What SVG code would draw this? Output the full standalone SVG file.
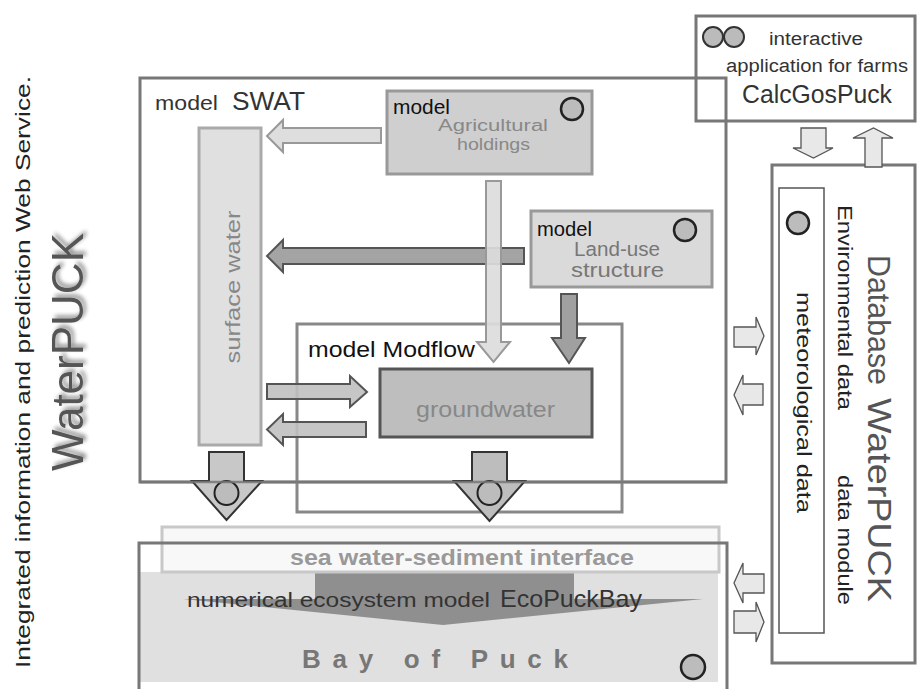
<svg xmlns="http://www.w3.org/2000/svg" width="917" height="689" viewBox="0 0 917 689">
<style>
text{font-family:"Liberation Sans","DejaVu Sans",sans-serif}
.frame{fill:none;stroke:#777;stroke-width:3}
.circ{fill:#bcbcbc;stroke:#222;stroke-width:2.5}
.lbl{fill:#333}
.grey{fill:#888}
.side{fill:#e8e8e8;stroke:#555;stroke-width:1.3}
</style>
<defs>
<filter id="sh" x="-20%" y="-20%" width="140%" height="140%">
<feGaussianBlur in="SourceAlpha" stdDeviation="2"/>
<feOffset dx="3" dy="3" result="b"/>
<feComponentTransfer><feFuncA type="linear" slope="0.45"/></feComponentTransfer>
<feMerge><feMergeNode/><feMergeNode in="SourceGraphic"/></feMerge>
</filter>
</defs>

<g id="title">
<text transform="translate(30,372) rotate(-90)" text-anchor="middle" font-size="21" fill="#222" textLength="592" lengthAdjust="spacingAndGlyphs">Integrated information and prediction Web Service.</text>
<text transform="translate(83,352) rotate(-90)" text-anchor="middle" font-size="44" fill="#555" filter="url(#sh)" textLength="238" lengthAdjust="spacingAndGlyphs">WaterPUCK</text>
</g>

<g id="bay">
<rect x="139" y="572" width="579" height="110" fill="#e0e0e0"/>
<path d="M315,572H574V599H703L443,625L183,599H315Z" fill="#8f8f8f"/>
<text x="187" y="607" font-size="20" fill="#333" textLength="303" lengthAdjust="spacingAndGlyphs">numerical ecosystem model</text>
<text x="500" y="607" font-size="24" fill="#333" textLength="142" lengthAdjust="spacingAndGlyphs">EcoPuckBay</text>
<text x="302" y="668" font-size="26" font-weight="bold" fill="#777" textLength="266" lengthAdjust="spacing">Bay of Puck</text>
<circle class="circ" cx="693" cy="667" r="12"/>
</g>
<g id="interface">
<rect x="162" y="527" width="557" height="45" fill="#f7f7f7" fill-opacity="0.85" stroke="#c8c8c8" stroke-width="3"/>
<text x="290" y="565" font-size="22" font-weight="bold" fill="#999" textLength="344" lengthAdjust="spacingAndGlyphs">sea water-sediment interface</text>
</g>
<path id="bay-frame" class="frame" d="M139,692V543H727V692"/>

<g id="calcgospuck">
<rect x="696" y="16" width="219" height="105" fill="#fff" stroke="#777" stroke-width="3"/>
<circle cx="713" cy="37" r="10" fill="#bbb" stroke="#333" stroke-width="2"/>
<circle cx="734" cy="37" r="10" fill="#bbb" stroke="#333" stroke-width="2"/>
<text x="769" y="45" font-size="18" class="lbl" textLength="94" lengthAdjust="spacingAndGlyphs">interactive</text>
<text x="726" y="72" font-size="18" class="lbl" textLength="182" lengthAdjust="spacingAndGlyphs">application for farms</text>
<text x="742" y="103" font-size="26" class="lbl" textLength="150" lengthAdjust="spacingAndGlyphs">CalcGosPuck</text>
</g>

<g id="swat">
<rect class="frame" x="140" y="78" width="586" height="404"/>
<text x="155" y="110" font-size="20" class="lbl" textLength="63" lengthAdjust="spacingAndGlyphs">model</text>
<text x="232" y="110" font-size="25" class="lbl" textLength="73" lengthAdjust="spacingAndGlyphs">SWAT</text>
</g>

<g id="surface-water">
<rect x="199" y="128" width="62" height="317" fill="#e0e0e0" stroke="#aaa" stroke-width="3"/>
<text transform="translate(240,287) rotate(-90)" text-anchor="middle" font-size="20" fill="#888" textLength="153" lengthAdjust="spacingAndGlyphs">surface water</text>
</g>

<g id="agricultural">
<rect x="387" y="91" width="205" height="83" fill="#cfcfcf" stroke="#999" stroke-width="3"/>
<text x="393" y="114" font-size="20" fill="#111" textLength="57" lengthAdjust="spacingAndGlyphs">model</text>
<text x="438" y="131" font-size="16" class="grey" textLength="110" lengthAdjust="spacingAndGlyphs">Agricultural</text>
<text x="457" y="150" font-size="16" class="grey" textLength="73" lengthAdjust="spacingAndGlyphs">holdings</text>
<circle class="circ" cx="572" cy="109" r="11"/>
</g>

<g id="landuse">
<rect x="531" y="211" width="181" height="76" fill="#dadada" stroke="#999" stroke-width="3"/>
<text x="537" y="236" font-size="20" fill="#111" textLength="55" lengthAdjust="spacingAndGlyphs">model</text>
<text x="574" y="256" font-size="20" fill="#777" textLength="86" lengthAdjust="spacingAndGlyphs">Land-use</text>
<text x="571" y="277" font-size="20" fill="#777" textLength="93" lengthAdjust="spacingAndGlyphs">structure</text>
<circle class="circ" cx="685" cy="230" r="11"/>
</g>

<g id="modflow">
<rect x="297" y="324" width="325" height="188" fill="none" stroke="#888" stroke-width="3"/>
<text x="308" y="357" font-size="22" fill="#111" textLength="167" lengthAdjust="spacingAndGlyphs">model Modflow</text>
</g>

<g id="groundwater">
<rect x="380" y="369" width="212" height="68" fill="#bebebe" stroke="#555" stroke-width="3"/>
<text x="416" y="417" font-size="22" fill="#888" textLength="139" lengthAdjust="spacingAndGlyphs">groundwater</text>
</g>

<g id="database">
<rect x="772" y="165" width="143" height="498" fill="#fff" stroke="#777" stroke-width="3"/>
<rect x="779" y="188" width="45" height="445" fill="#fff" stroke="#555" stroke-width="1.5"/>
<circle class="circ" cx="798" cy="223" r="11"/>
<text transform="translate(868,255) rotate(90)" font-size="32" fill="#555" textLength="130" lengthAdjust="spacingAndGlyphs">Database</text>
<text transform="translate(868,398) rotate(90)" font-size="33" fill="#555" textLength="204" lengthAdjust="spacingAndGlyphs">WaterPUCK</text>
<text transform="translate(838,205) rotate(90)" font-size="21" fill="#222" textLength="205" lengthAdjust="spacingAndGlyphs">Environmental data</text>
<text transform="translate(838,475) rotate(90)" font-size="21" fill="#222" textLength="130" lengthAdjust="spacingAndGlyphs">data module</text>
<text transform="translate(797,292) rotate(90)" font-size="20" fill="#222" textLength="221" lengthAdjust="spacingAndGlyphs">meteorological data</text>
</g>

<g id="connectors">
<polygon points="381,128 283,128 283,120 267,136 283,152 283,143 381,143" fill="#dedede" stroke="#999" stroke-width="2"/>
<polygon points="524,248 283,248 283,240 267,256 283,272 283,264 524,264" fill="#a4a4a4" stroke="#555" stroke-width="2"/>
<polygon points="486,181 501,181 501,342 510,342 493.5,362 477,342 486,342" fill="#dcdcdc" fill-opacity="0.92" stroke="#999" stroke-width="2"/>
<polygon points="561,294 577,294 577,338 585,338 569,363 552,338 561,338" fill="#a0a0a0" stroke="#555" stroke-width="2"/>
<polygon points="267,384 350,384 350,376 367,392 350,407 350,399 267,399" fill="#c0c0c0" fill-opacity="0.9" stroke="#555" stroke-width="2"/>
<polygon points="366,422 283,422 283,414 267,429.5 283,445 283,437 366,437" fill="#c0c0c0" fill-opacity="0.9" stroke="#555" stroke-width="2"/>
<polygon points="209,452 244,452 244,481 262,481 226.5,520 192,481 209,481" fill="#c8c8c8" stroke="#333" stroke-width="2"/>
<circle cx="226.5" cy="493" r="12" fill="#bcbcbc" stroke="#222" stroke-width="2"/>
<polygon points="472,452 507,452 507,481 525,481 489.5,521 454,481 472,481" fill="#bdbdbd" stroke="#333" stroke-width="2"/>
<circle cx="489.5" cy="493" r="12" fill="#bcbcbc" stroke="#222" stroke-width="2"/>
<line x1="140" y1="482" x2="727" y2="482" stroke="#777" stroke-width="2.5" stroke-opacity="0.85"/>
<polygon class="side" points="801,128 826,128 826,148 833,148 813.5,158 793,148 801,148"/>
<polygon class="side" points="865,167 882,167 882,138 893,138 873.5,128 853,138 865,138"/>
<polygon class="side" points="734,327 756,327 756,317 764,336 756,355 756,347 734,347"/>
<polygon class="side" points="763,384 743,384 743,375 734,395 743,415 743,405 763,405"/>
<polygon class="side" points="764,574 743,574 743,563 734,583 743,603 743,593 764,593"/>
<polygon class="side" points="734,611 756,611 756,602 764,622 756,642 756,633 734,633"/>
</g>
</svg>
